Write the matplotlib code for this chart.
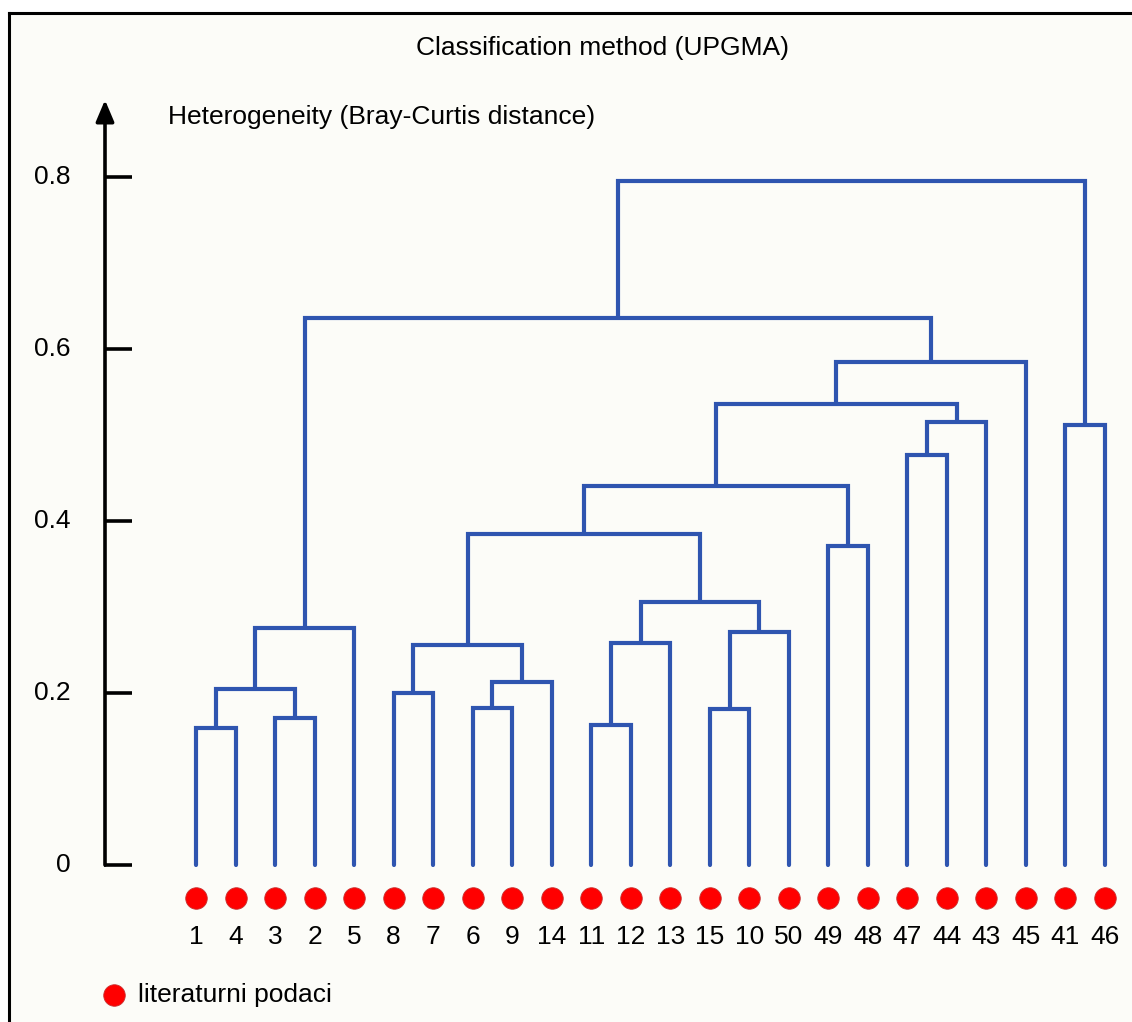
import matplotlib
matplotlib.use("Agg")
import matplotlib.pyplot as plt
from matplotlib.lines import Line2D

# feuilles du dendrogramme (ordre d'affichage)
leaves = ["1", "4", "3", "2", "5", "8", "7", "6", "9", "14", "11", "12",
          "13", "15", "10", "50", "49", "48", "47", "44", "43", "45", "41", "46"]

# fusions UPGMA: (gauche, droite, hauteur) ; ids >= len(leaves) = clusters créés
merge_left = [0, 2, 24, 26, 5, 7, 29, 28, 10, 32, 13, 34, 33, 31, 16, 37, 18, 40, 39, 42, 27, 22, 44]
merge_right = [1, 3, 25, 4, 6, 8, 9, 30, 11, 12, 14, 15, 35, 36, 17, 38, 19, 20, 41, 21, 43, 23, 45]
merge_height = [0.159, 0.171, 0.205, 0.276, 0.200, 0.183, 0.213, 0.256, 0.163, 0.258,
                0.181, 0.271, 0.306, 0.385, 0.371, 0.441, 0.477, 0.515, 0.536, 0.585,
                0.636, 0.512, 0.795]

y_ticks = [0, 0.2, 0.4, 0.6, 0.8]
y_ticklabels = ["0", "0.2", "0.4", "0.6", "0.8"]

BLUE = "#2f55b0"
RED = "#ff0000"
FS = 19
W, H = 1132, 1022
# repère pixel -> données
X0, DX = 196.0, 39.52   # px de la feuille 0, pas entre feuilles
Y0, DY = 865.0, 860.0   # px de la hauteur 0, px par unité

plt.rcParams["font.family"] = ["Liberation Sans", "DejaVu Sans"]

fig = plt.figure(figsize=(W / 100, H / 100), dpi=100, facecolor="white")
ax = fig.add_axes([0, 0, 1, 1])
ax.set_xlim((0 - X0) / DX, (W - X0) / DX)
ax.set_ylim((Y0 - H) / DY, Y0 / DY)
ax.axis("off")
ax.set_facecolor("none")


def px(x):
    return (x - X0) / DX


def py(y):
    return (Y0 - y) / DY


# fond légèrement crème + cadre gauche/haut
fig.patches.append(plt.Rectangle((9 / W, 0), 1, 1 - 13 / H, transform=fig.transFigure,
                                 facecolor="#fcfcf8", edgecolor="none", zorder=-10))
fig.lines.append(Line2D([9 / W, 9 / W], [0, 1 - 13 / H], transform=fig.transFigure,
                        color="black", lw=2.2, zorder=-5))
fig.lines.append(Line2D([9 / W, 1], [1 - 13 / H, 1 - 13 / H], transform=fig.transFigure,
                        color="black", lw=2.2, zorder=-5))

# dendrogramme
n = len(leaves)
xpos = {i: float(i) for i in range(n)}
ypos = {i: 0.0 for i in range(n)}
for k, (a, b, h) in enumerate(zip(merge_left, merge_right, merge_height)):
    cid = n + k
    ax.plot([xpos[a], xpos[a], xpos[b], xpos[b]], [ypos[a], h, h, ypos[b]],
            color=BLUE, lw=3.0, solid_joinstyle="miter", solid_capstyle="round", zorder=3)
    xpos[cid] = (xpos[a] + xpos[b]) / 2
    ypos[cid] = h

# points rouges + étiquettes
idx = list(range(n))
ax.plot(idx, [py(898)] * n, "o", ms=15.5, color=RED, mec="#c83030", mew=0.6, zorder=4)
for i, lab in enumerate(leaves):
    ax.text(i, py(937), lab, ha="center", va="center", fontsize=FS)

# axe vertical avec flèche
ax.annotate("", xy=(px(105), py(100)), xytext=(px(105), 0),
            arrowprops=dict(arrowstyle="-|>,head_length=1.3,head_width=0.55",
                            color="black", lw=2.6, shrinkA=0, shrinkB=0))
for t, lab in zip(y_ticks, y_ticklabels):
    ax.plot([px(104), px(132)], [t, t], color="black", lw=2.6, solid_capstyle="butt")
    ax.text(px(71), t, lab, ha="right", va="center", fontsize=FS)

# titres
ax.text(px(603), py(48), "Classification method (UPGMA)", ha="center", va="center", fontsize=FS)
ax.text(px(168), py(117), "Heterogeneity (Bray-Curtis distance)", ha="left", va="center", fontsize=FS)

# légende
ax.plot([px(114)], [py(995)], "o", ms=15.5, color=RED, mec="#c83030", mew=0.6)
ax.text(px(138), py(995), "literaturni podaci", ha="left", va="center", fontsize=FS)

fig.savefig("out.png", dpi=100)
